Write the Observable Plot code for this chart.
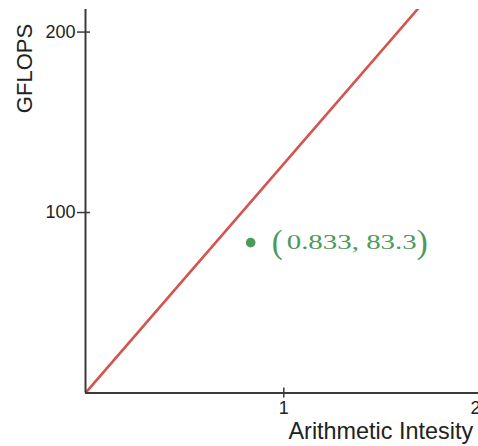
<!DOCTYPE html>
<html>
<head>
<meta charset="utf-8">
<script src="https://cdn.jsdelivr.net/npm/d3@7"></script>
<script src="https://cdn.jsdelivr.net/npm/@observablehq/plot@0.6"></script>
<style>
  html, body { margin: 0; padding: 0; background: white; overflow: hidden; }
</style>
</head>
<body>
<div id="chart"></div>
<script>
// ---- data ----
const roofX = [0, 2];          // arithmetic intensity
const roofY = [0, 254];        // GFLOPS along the roofline (clipped)
const pointX = [0.833];
const pointY = [83.3];
const pointLabels = ["(0.833, 83.3)"];
const xTicks = [1, 2];
const yTicks = [100, 200];
const xLabel = "Arithmetic Intesity";
const yLabel = "GFLOPS";

const red = "#d4554f";
const green = "#4a9a58";
const axisColor = "#3a3a3a";

const roof = roofX.map((x, i) => ({x, y: roofY[i]}));
const points = pointX.map((x, i) => ({x, y: pointY[i], label: pointLabels[i]}));
const fmt = d => String(d);

const svg = Plot.plot({
  width: 478,
  height: 446,
  marginLeft: 85,
  marginRight: -3.6,
  marginTop: 9,
  marginBottom: 53.5,
  x: {domain: [0, 2]},
  y: {domain: [0, 212.5]},
  style: {fontFamily: "'Liberation Sans', Arial, sans-serif", fontSize: "18px", color: axisColor, background: "white"},
  marks: [
    Plot.line(roof, {x: "x", y: "y", stroke: red, strokeWidth: 2.6, clip: true}),
    Plot.ruleY([0], {stroke: axisColor, strokeWidth: 2}),
    Plot.ruleX([0], {stroke: axisColor, strokeWidth: 2}),
    Plot.axisY({ticks: yTicks, tickFormat: fmt, tickSize: 13, tickPadding: 2, dx: 5, label: null, strokeWidth: 1.5, fontSize: 18, fill: "#222"}),
    Plot.axisX({ticks: [xTicks[0]], tickFormat: fmt, tickSize: 10, tickPadding: 3, dy: -5, label: null, strokeWidth: 1.5, fontSize: 18, fill: "#222"}),
    Plot.axisX({ticks: [xTicks[1]], tickFormat: fmt, tickSize: 0, tickPadding: 8, dx: -6.5, label: null, fontSize: 18, fill: "#222"}),
    Plot.dot(points, {x: "x", y: "y", r: 4.8, fill: green}),
    Plot.text(points, {x: "x", y: "y", text: "label", dx: 21, textAnchor: "start", lineAnchor: "middle", fill: green,
      fontFamily: "'Liberation Serif', 'Times New Roman', serif", fontSize: 20}),
    Plot.text([xLabel], {text: d => d, frameAnchor: "bottom-right", dx: -9, dy: 38, textAnchor: "end", lineAnchor: "middle", fontSize: 23.4, fill: "#222"}),
    Plot.text([yLabel], {text: d => d, frameAnchor: "top-left", rotate: -90, dx: -61, dy: 59, textAnchor: "middle", lineAnchor: "middle", fontSize: 22, fill: "#222"})
  ]
});

// math-style annotation: tall parentheses, wide digits
const ns = "http://www.w3.org/2000/svg";
svg.querySelectorAll("text").forEach(t => {
  const s = t.textContent;
  if (!pointLabels.includes(s)) return;
  const inner = s.slice(1, -1);
  while (t.firstChild) t.removeChild(t.firstChild);
  const a = document.createElementNS(ns, "tspan");
  a.setAttribute("font-size", "33");
  a.setAttribute("dy", "3.5");
  a.textContent = s[0];
  const b = document.createElementNS(ns, "tspan");
  b.setAttribute("dy", "-3.5");
  b.setAttribute("dx", "4");
  b.setAttribute("textLength", "130");
  b.setAttribute("lengthAdjust", "spacingAndGlyphs");
  b.textContent = inner;
  const c = document.createElementNS(ns, "tspan");
  c.setAttribute("font-size", "33");
  c.setAttribute("dy", "3.5");
  c.textContent = s[s.length - 1];
  t.appendChild(a); t.appendChild(b); t.appendChild(c);
});

document.getElementById("chart").appendChild(svg);
</script>
</body>
</html>
